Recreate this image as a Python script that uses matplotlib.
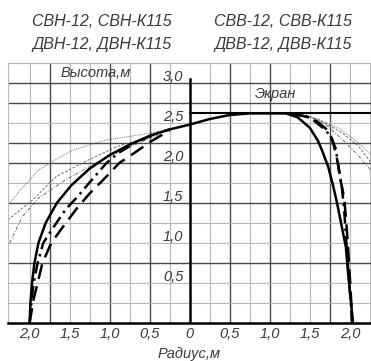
import matplotlib.pyplot as plt
import numpy as np

plt.rcParams["font.family"] = ["Liberation Sans", "DejaVu Sans"]
plt.rcParams["font.style"] = "italic"

TXT = '#3a3a3a'

# --- data (radius, height in m; left half negative) ---
x_ticks = [-2.0, -1.5, -1.0, -0.5, 0.0, 0.5, 1.0, 1.5, 2.0]
x_tick_labels = ['2,0', '1,5', '1,0', '0,5', '0', '0,5', '1,0', '1,5', '2,0']
y_ticks = [0.5, 1.0, 1.5, 2.0, 2.5, 3.0]
y_tick_labels = ['0,5', '1,0', '1,5', '2,0', '2,5', '3,0']

screen_h = 2.62

# thick solid profile, left to right
solid_x = [-2.0, -1.99, -1.97, -1.94, -1.89, -1.8, -1.66, -1.48, -1.25, -1.0, -0.75, -0.5, -0.25, 0.0,
           0.25, 0.5, 0.75, 1.0, 1.2, 1.35, 1.5, 1.6, 1.66, 1.73, 1.79, 1.84, 1.87, 1.92, 1.95, 1.98, 2.01, 2.04]
solid_y = [0.0, 0.25, 0.5, 0.75, 1.0, 1.25, 1.5, 1.72, 1.93, 2.1, 2.23, 2.34, 2.42, 2.48,
           2.55, 2.6, 2.62, 2.62, 2.62, 2.57, 2.44, 2.28, 2.14, 1.95, 1.72, 1.5, 1.35, 1.1, 0.95, 0.6, 0.3, 0.0]

# thick dash-dot, left branch
dd_left_x = [-2.0, -1.98, -1.95, -1.9, -1.83, -1.7, -1.55, -1.4, -1.24, -1.04, -0.9, -0.7, -0.45, -0.25]
dd_left_y = [0.0, 0.25, 0.5, 0.75, 1.0, 1.2, 1.42, 1.58, 1.77, 2.0, 2.12, 2.24, 2.36, 2.42]
# thick long dash, left branch
ld_left_x = [-2.0, -1.95, -1.9, -1.84, -1.73, -1.6, -1.42, -1.25, -1.08, -0.88, -0.7, -0.5, -0.25]
ld_left_y = [0.0, 0.3, 0.5, 0.75, 1.0, 1.18, 1.42, 1.62, 1.79, 2.0, 2.12, 2.26, 2.41]

# thick dash-dot, right branch
dd_right_x = [1.25, 1.5, 1.65, 1.75, 1.82, 1.86, 1.9, 1.93, 1.95, 1.97, 2.0, 2.03]
dd_right_y = [2.62, 2.57, 2.45, 2.35, 2.19, 1.95, 1.7, 1.4, 1.1, 0.8, 0.4, 0.0]
# thick dashed, right branch
ld_right_x = [1.3, 1.55, 1.7, 1.78, 1.84, 1.88, 1.93, 1.96, 1.98, 2.01, 2.03]
ld_right_y = [2.62, 2.55, 2.43, 2.3, 2.05, 1.8, 1.56, 1.2, 0.9, 0.4, 0.0]

# thin profiles, left side
thin1_left_x = [-2.27, -2.1, -1.89, -1.66, -1.46, -1.04, -0.7, -0.35]
thin1_left_y = [1.47, 1.68, 1.91, 2.05, 2.16, 2.29, 2.34, 2.4]
thin2_left_x = [-2.27, -1.96, -1.67, -1.26, -0.92, -0.6, -0.35]
thin2_left_y = [1.29, 1.54, 1.83, 2.04, 2.2, 2.3, 2.38]
thin3_left_x = [-2.25, -2.09, -1.89, -1.55, -1.17, -0.8, -0.4]
thin3_left_y = [1.0, 1.33, 1.56, 1.79, 2.0, 2.18, 2.35]

# thin profiles, right side
thin1_right_x = [1.35, 1.6, 1.85, 2.05, 2.27]
thin1_right_y = [2.62, 2.55, 2.44, 2.3, 2.1]
thin2_right_x = [1.4, 1.65, 1.9, 2.1, 2.27]
thin2_right_y = [2.62, 2.52, 2.38, 2.22, 2.0]
thin3_right_x = [1.45, 1.7, 1.9, 2.1, 2.27]
thin3_right_y = [2.6, 2.48, 2.3, 2.1, 1.9]

dark_vx = [-1.75, -1.0, -0.5, 0.5, 1.0, 1.75]
dark_hy = [3.0, 2.75, 2.25, 2.0, 1.5, 0.75]

fig = plt.figure(figsize=(3.71, 3.61), dpi=100)
ax = fig.add_axes([8 / 371, 38 / 361, 363 / 371, 260 / 361])
ax.set_xlim(-2.27, 2.264)
ax.set_ylim(0, 3.25)

# grid
for gx in np.arange(-2.0, 2.3, 0.25):
    if abs(gx) < 1e-6:
        continue
    dark = any(abs(gx - d) < 1e-6 for d in dark_vx)
    ax.axvline(gx, color='#4a4a4a' if dark else '#b8b8b8', lw=1.0 if dark else 0.8, zorder=1)
for gy in np.arange(0.25, 3.3, 0.25):
    dark = any(abs(gy - d) < 1e-6 for d in dark_hy)
    ax.axhline(gy, color='#4a4a4a' if dark else '#b8b8b8', lw=1.0 if dark else 0.8, zorder=1)

# axes and screen
ax.plot([0, 0], [0, 3.05], color='black', lw=1.8, zorder=3)
ax.plot([0, 2.264], [screen_h, screen_h], color='black', lw=1.5, zorder=3)

# thin curves
thin_kw = dict(color='#555555', lw=0.6, zorder=2)
ax.plot(thin1_left_x, thin1_left_y, ls=(0, (1, 1.2)), **thin_kw)
ax.plot(thin2_left_x, thin2_left_y, ls=(0, (3, 2)), **thin_kw)
ax.plot(thin3_left_x, thin3_left_y, ls=(0, (4, 2, 1, 2)), **thin_kw)
ax.plot(thin1_right_x, thin1_right_y, ls=(0, (1, 1.2)), **thin_kw)
ax.plot(thin2_right_x, thin2_right_y, ls=(0, (3, 2)), **thin_kw)
ax.plot(thin3_right_x, thin3_right_y, ls=(0, (4, 2, 1, 2)), **thin_kw)

# thick curves
ax.plot(dd_left_x, dd_left_y, color='black', lw=1.8, ls=(0, (5, 2, 1, 2)), zorder=4)
ax.plot(ld_left_x, ld_left_y, color='black', lw=1.8, ls=(0, (6, 3)), zorder=4)
ax.plot(dd_right_x, dd_right_y, color='black', lw=1.8, ls=(0, (5, 2, 1, 2)), zorder=4)
ax.plot(ld_right_x, ld_right_y, color='black', lw=1.8, ls=(0, (6, 3)), zorder=4)
ax.plot(solid_x, solid_y, color='black', lw=1.8, zorder=5)

# frame
for side in ['top', 'right', 'left']:
    ax.spines[side].set_color('#b8b8b8')
    ax.spines[side].set_linewidth(0.8)
ax.spines['bottom'].set_color('black')
ax.spines['bottom'].set_linewidth(1.8)

ax.set_xticks(x_ticks, x_tick_labels)
ax.set_yticks([])
ax.tick_params(axis='x', length=0, pad=3, labelsize=10.5, labelcolor=TXT)

for yv, lab in zip(y_ticks, y_tick_labels):
    ax.text(-0.08, yv + 0.02, lab, ha='right', va='baseline', fontsize=10.5, color=TXT, zorder=6)

ax.text(-1.18, 3.12, 'Высота,м', ha='center', va='center', fontsize=10.5, color=TXT)
ax.text(1.07, 2.86, 'Экран', ha='center', va='center', fontsize=10.5, color=TXT)
fig.text(189 / 371, 1 - 354 / 361, 'Радиус,м', ha='center', va='center', fontsize=10.5, color=TXT)

fig.text(102 / 371, 1 - 21 / 361, 'СВН-12, СВН-К115', ha='center', va='center', fontsize=11.5, color=TXT)
fig.text(283 / 371, 1 - 21 / 361, 'СВВ-12, СВВ-К115', ha='center', va='center', fontsize=11.5, color=TXT)
fig.text(102 / 371, 1 - 44 / 361, 'ДВН-12, ДВН-К115', ha='center', va='center', fontsize=11.5, color=TXT)
fig.text(283 / 371, 1 - 44 / 361, 'ДВВ-12, ДВВ-К115', ha='center', va='center', fontsize=11.5, color=TXT)

fig.savefig('out.png', dpi=100)
